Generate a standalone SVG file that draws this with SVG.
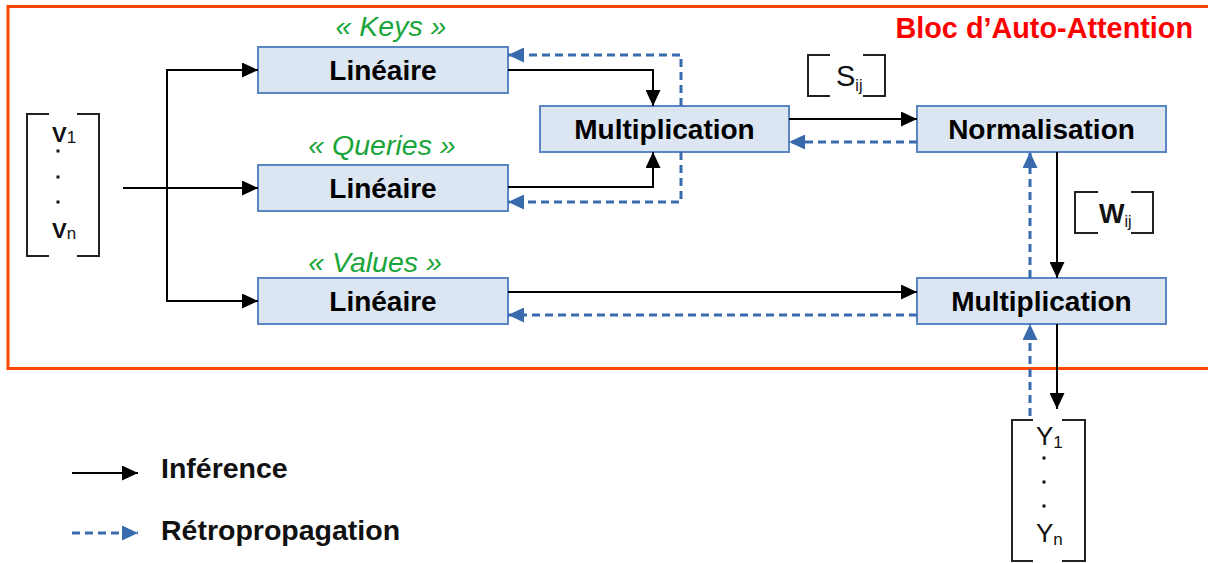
<svg xmlns="http://www.w3.org/2000/svg" width="1208" height="563" viewBox="0 0 1208 563">
  <defs>
    <style>
      .node rect { fill: #dce6f2; stroke: #5a86c3; stroke-width: 2; }
      .label { font-family: "Liberation Sans", Arial, sans-serif; font-weight: bold; font-size: 28px; fill: #000; text-anchor: middle; }
      .tag { font-family: "Liberation Sans", Arial, sans-serif; font-style: italic; font-size: 28.5px; fill: #1aa53a; text-anchor: middle; }
      .title { font-family: "Liberation Sans", Arial, sans-serif; font-weight: bold; font-size: 28.8px; fill: #ff0000; text-anchor: end; }
      .legend { font-family: "Liberation Sans", Arial, sans-serif; font-weight: bold; font-size: 28.5px; fill: #111; }
      .mat { font-family: "Liberation Sans", Arial, sans-serif; fill: #111; }
      .dot { fill: #111; }
      .bracket { fill: none; stroke: #222; stroke-width: 2; }
      .fwd { fill: none; stroke: #000; stroke-width: 2; marker-end: url(#arrowBlack); }
      .back { fill: none; stroke: #3a6aae; stroke-width: 3; stroke-dasharray: 8 5; marker-end: url(#arrowBlue); }
    </style>
    <marker id="arrowBlack" markerUnits="userSpaceOnUse" markerWidth="16" markerHeight="15" refX="16" refY="7.5" orient="auto">
      <path d="M0,0 L16,7.5 L0,15 z" fill="#000"/>
    </marker>
    <marker id="arrowBlue" markerUnits="userSpaceOnUse" markerWidth="16" markerHeight="15" refX="16" refY="7.5" orient="auto">
      <path d="M0,0 L16,7.5 L0,15 z" fill="#3a6aae"/>
    </marker>
  </defs>

  <rect x="0" y="0" width="1208" height="563" fill="#ffffff"/>

  <!-- self-attention block frame -->
  <g id="frame">
    <rect x="8" y="6.5" width="1215" height="362" fill="none" stroke="#ff4500" stroke-width="3"/>
    <text class="title" x="1193" y="38">Bloc d’Auto-Attention</text>
  </g>

  <!-- input vector -->
  <g id="input">
    <path class="bracket" d="M49 114 H27 V256 H49 M77 114 H99 V256 H77"/>
    <text class="mat" x="52" y="142" font-size="22" font-weight="bold">V<tspan font-size="17" font-weight="normal" dy="1">1</tspan></text>
    <rect class="dot" x="56.5" y="149.5" width="3" height="3"/>
    <rect class="dot" x="56.5" y="175.5" width="3" height="3"/>
    <rect class="dot" x="56.5" y="200.5" width="3" height="3"/>
    <text class="mat" x="52" y="238" font-size="22" font-weight="bold">V<tspan font-size="17" font-weight="normal" dy="1">n</tspan></text>
  </g>

  <g id="linear-keys" class="node">
    <text class="tag" x="391" y="36">« Keys »</text>
    <rect x="258" y="47" width="250" height="46"/>
    <text class="label" x="383" y="80">Linéaire</text>
  </g>

  <g id="linear-queries" class="node">
    <text class="tag" x="382" y="155">« Queries »</text>
    <rect x="258" y="165" width="250" height="46"/>
    <text class="label" x="383" y="198">Linéaire</text>
  </g>

  <g id="linear-values" class="node">
    <text class="tag" x="375" y="272">« Values »</text>
    <rect x="258" y="278" width="250" height="46"/>
    <text class="label" x="383" y="311">Linéaire</text>
  </g>

  <g id="mult-scores" class="node">
    <rect x="540" y="106" width="249" height="46"/>
    <text class="label" x="664.5" y="139">Multiplication</text>
  </g>

  <g id="normalisation" class="node">
    <rect x="917" y="106" width="249" height="46"/>
    <text class="label" x="1041.5" y="139">Normalisation</text>
  </g>

  <g id="mult-values" class="node">
    <rect x="917" y="278" width="249" height="46"/>
    <text class="label" x="1041.5" y="311">Multiplication</text>
  </g>

  <!-- score matrix -->
  <g id="scores">
    <path class="bracket" d="M830 55 H808 V96 H830 M863 55 H885 V96 H863"/>
    <text class="mat" x="836" y="86" font-size="29">S<tspan font-size="16" dy="5">ij</tspan></text>
  </g>

  <!-- weight matrix -->
  <g id="weights">
    <path class="bracket" d="M1098 192 H1075 V233 H1098 M1131 192 H1153 V233 H1131"/>
    <text class="mat" x="1099" y="223" font-size="27" font-weight="bold">W<tspan font-size="16" font-weight="normal" dy="4">ij</tspan></text>
  </g>

  <!-- output vector -->
  <g id="output">
    <path class="bracket" d="M1033 420 H1012 V561 H1033 M1062 420 H1085 V561 H1062"/>
    <text class="mat" x="1036" y="445" font-size="26">Y<tspan font-size="17" dy="3">1</tspan></text>
    <rect class="dot" x="1042.5" y="456.5" width="3" height="3"/>
    <rect class="dot" x="1042.5" y="480.5" width="3" height="3"/>
    <rect class="dot" x="1042.5" y="504.5" width="3" height="3"/>
    <text class="mat" x="1036" y="542" font-size="26">Y<tspan font-size="17" dy="3">n</tspan></text>
  </g>

  <g id="connectors">
    <!-- inference -->
    <path class="fwd" d="M123 188 H258"/>
    <path class="fwd" d="M167 188 V70 H258"/>
    <path class="fwd" d="M167 188 V301 H258"/>
    <path class="fwd" d="M508 70 H653 V106"/>
    <path class="fwd" d="M508 187 H653 V152"/>
    <path class="fwd" d="M789 119 H917"/>
    <path class="fwd" d="M1057 152 V278"/>
    <path class="fwd" d="M508 292 H917"/>
    <path class="fwd" d="M1057 324 V409"/>
    <!-- backpropagation -->
    <path class="back" d="M681 106 V55 H508"/>
    <path class="back" d="M681 152 V202 H508"/>
    <path class="back" d="M917 142 H789"/>
    <path class="back" d="M1030 278 V152"/>
    <path class="back" d="M917 315 H508"/>
    <path class="back" d="M1030 416 V324"/>
  </g>

  <!-- legend -->
  <g id="legend">
    <path class="fwd" d="M72 473 H138"/>
    <text class="legend" x="161" y="478">Inférence</text>
    <path class="back" d="M72 533 H138"/>
    <text class="legend" x="161" y="540">Rétropropagation</text>
  </g>
</svg>
